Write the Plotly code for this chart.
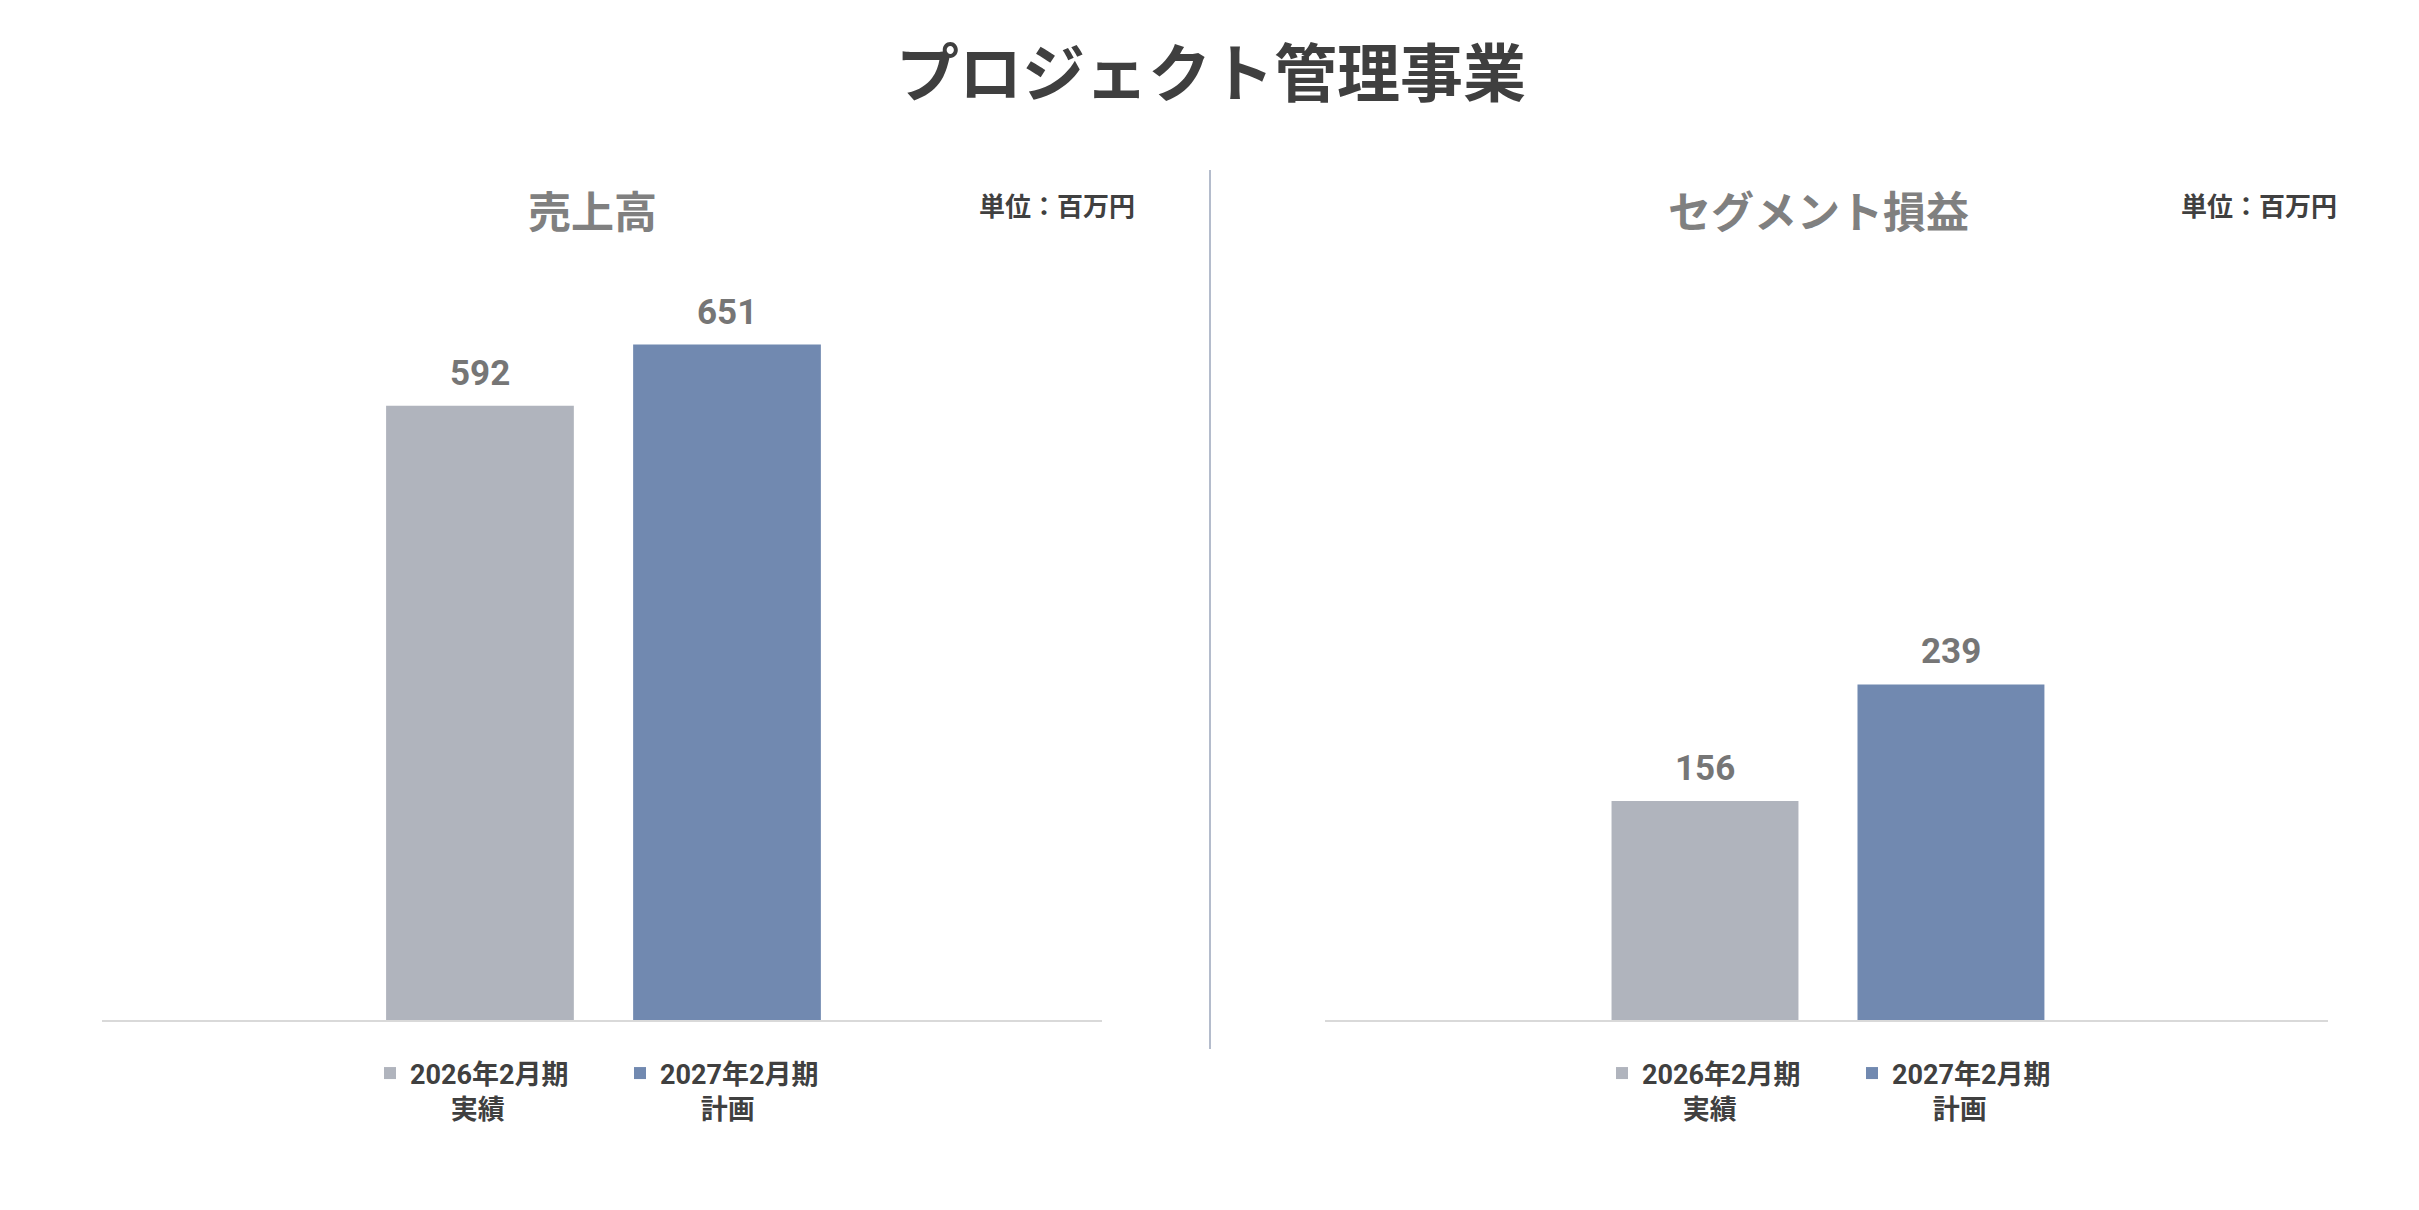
import plotly.graph_objects as go
from plotly.subplots import make_subplots

# data
periods = ["2026年2月期", "2027年2月期"]
kinds = ["実績", "計画"]
sales = [592, 651]
segment_profit = [156, 239]
panel_titles = ["売上高", "セグメント損益"]
unit_label = "単位：百万円"
main_title = "プロジェクト管理事業"

colors = ["#b0b4bd", "#7189b0"]
FONT = "Roboto, 'Noto Sans CJK JP', sans-serif"

# page body has an 8px margin, so the figure is a bit smaller than the window
W, H = 2403, 1194
def px(x):
    return (x - 8) / W
def py(y):
    return 1 - (y - 8) / H

names = [p + "<br>\u3000\u2002" + k for p, k in zip(periods, kinds)]

fig = make_subplots(rows=1, cols=2, horizontal_spacing=0.09)

for col, (vals, leg) in enumerate([(sales, "legend"), (segment_profit, "legend2")], start=1):
    for i in range(len(vals)):
        fig.add_trace(go.Bar(x=[names[i]], y=[vals[i]], name=names[i],
                             marker=dict(color=colors[i], line=dict(width=0)),
                             width=0.76, legend=leg, hoverinfo="skip"),
                      row=1, col=col)
        fig.add_annotation(x=names[i], y=vals[i], text=str(vals[i]),
                           xref="x" if col == 1 else "x2",
                           yref="y" if col == 1 else "y2",
                           yanchor="bottom", yshift=10, showarrow=False,
                           font=dict(family=FONT, size=35, color="#767676", weight="bold"))

legend_font = dict(family=FONT, size=27, color="#404040", weight="bold")

fig.update_layout(
    width=W, height=H,
    margin=dict(l=0, r=0, t=0, b=0),
    plot_bgcolor="white", paper_bgcolor="white",
    barmode="overlay",
    title=dict(text=main_title, x=px(1211), xanchor="center", y=py(74), yanchor="middle",
               font=dict(family=FONT, size=63, color="#3f3f3f", weight="bold")),
    xaxis=dict(domain=[px(102), px(1102)], range=[-1.53, 2.518]),
    xaxis2=dict(domain=[px(1325), px(2328)], range=[-1.545, 2.533]),
    yaxis=dict(domain=[py(1020), py(290)], range=[0, 703.6]),
    yaxis2=dict(domain=[py(1020), py(290)], range=[0, 520]),
    legend=dict(orientation="h", x=px(370), xanchor="left", y=py(1049), yanchor="top",
                valign="top", entrywidth=205, entrywidthmode="pixels", font=legend_font),
    legend2=dict(orientation="h", x=px(1602), xanchor="left", y=py(1049), yanchor="top",
                 valign="top", entrywidth=205, entrywidthmode="pixels", font=legend_font),
)

fig.update_xaxes(showticklabels=False, showgrid=False, zeroline=False, ticks="",
                 showline=True, linecolor="#d9d9d9", linewidth=2)
fig.update_yaxes(showticklabels=False, showgrid=False, zeroline=False, showline=False)

# panel titles and units
for x, t in zip([592, 1818], panel_titles):
    fig.add_annotation(x=px(x), y=py(213), xref="paper", yref="paper", text=t,
                       showarrow=False, xanchor="center", yanchor="middle",
                       font=dict(family=FONT, size=43, color="#808080", weight="bold"))
for x in [1137, 2339]:
    fig.add_annotation(x=px(x), y=py(207), xref="paper", yref="paper", text=unit_label,
                       showarrow=False, xanchor="right", yanchor="middle",
                       font=dict(family=FONT, size=26, color="#404040", weight="bold"))

# divider between panels
fig.add_shape(type="line", xref="paper", yref="paper",
              x0=px(1210), x1=px(1210), y0=py(1049), y1=py(170),
              line=dict(color="#b4bccc", width=2))

fig.write_html("out.html")
